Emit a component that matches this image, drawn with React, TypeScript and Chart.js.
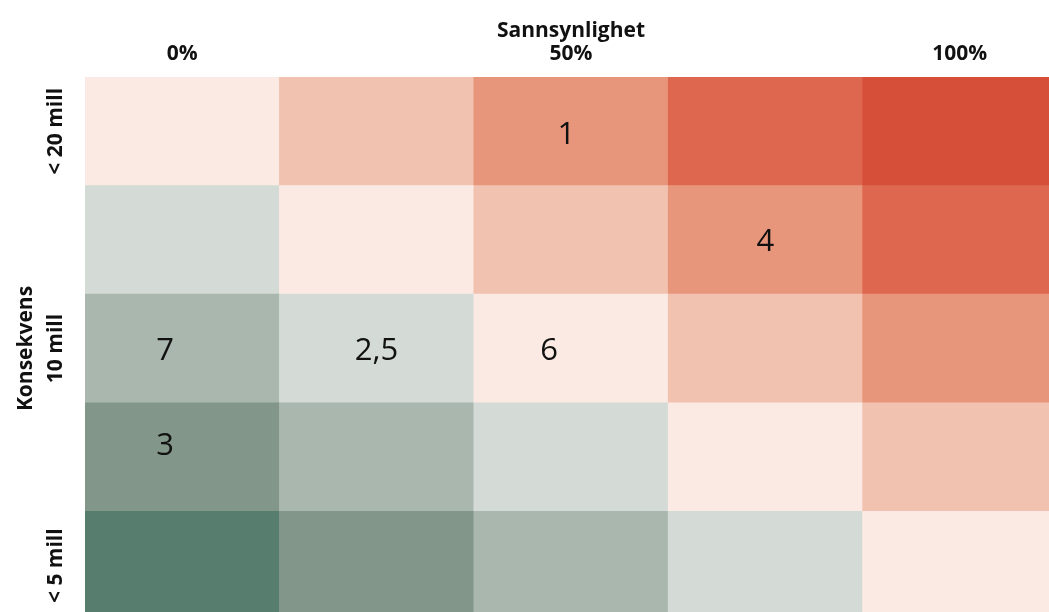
import React, { useEffect, useRef } from "react";
import { Chart, registerables } from "chart.js";

Chart.register(...registerables);

// Axis texts
const probabilityTicks = ["0%", "", "50%", "", "100%"];
const consequenceTicks = ["< 20 mill", "", "10 mill", "", "< 5 mill"];
const xTitle = "Sannsynlighet";
const yTitle = "Konsekvens";

// Risk level of every cell (0 = lowest, 8 = highest), one row per consequence band,
// listed from the bottom row (< 5 mill) up to the top row (< 20 mill)
const riskRowBottom = [0, 1, 2, 3, 4];
const riskRow2 = [1, 2, 3, 4, 5];
const riskRowMiddle = [2, 3, 4, 5, 6];
const riskRow4 = [3, 4, 5, 6, 7];
const riskRowTop = [4, 5, 6, 7, 8];

// every cell spans one consequence unit
const cellSpan = [1, 1, 1, 1, 1];

const riskPalette = [
  "#577D6E",
  "#82978A",
  "#AAB7AE",
  "#D4DBD6",
  "#FBEAE3",
  "#F1C2AF",
  "#E8967B",
  "#DE674F",
  "#D64F38",
];

// Numbered items placed in the matrix
const itemLabels = ["1", "4", "7", "2,5", "6", "3"];
const itemProbability = [49.4, 75, -2.2, 25, 47.2, -2.2]; // percent
const itemConsequence = [4.46, 3.48, 2.48, 2.48, 2.48, 1.6]; // 0 = bottom, 5 = top

const TEXT = "#111111";
const FONT = "'Open Sans', sans-serif";

const itemLabelPlugin = {
  id: "itemLabels",
  afterDatasetsDraw(chart: any) {
    const idx = chart.data.datasets.length - 1;
    const meta = chart.getDatasetMeta(idx);
    const ctx = chart.ctx;
    ctx.save();
    ctx.font = `31px ${FONT}`;
    ctx.fillStyle = TEXT;
    ctx.textAlign = "center";
    ctx.textBaseline = "middle";
    meta.data.forEach((el: any, i: number) => {
      ctx.fillText(itemLabels[i], el.x, el.y);
    });
    ctx.restore();
  },
};

export default function App() {
  const ref = useRef<HTMLCanvasElement | null>(null);

  useEffect(() => {
    if (!ref.current) return;
    Chart.defaults.font.family = FONT;
    const rows = [riskRowBottom, riskRow2, riskRowMiddle, riskRow4, riskRowTop];
    const barSets: any[] = rows.map((r, i) => ({
      type: "bar",
      label: `row${i}`,
      data: [...cellSpan],
      backgroundColor: r.map((l) => riskPalette[l]),
      borderWidth: 0,
      categoryPercentage: 1,
      barPercentage: 1,
      grouped: false,
      xAxisID: "x",
      yAxisID: "y",
      stack: "matrix",
    }));
    const labelSet: any = {
      type: "scatter",
      label: "items",
      data: itemProbability.map((p, i) => ({ x: p, y: itemConsequence[i] })),
      xAxisID: "xp",
      yAxisID: "yp",
      pointRadius: 0,
      pointHoverRadius: 0,
    };

    const axisFont = { size: 21, weight: "bold" };

    const chart = new Chart(ref.current, {
      type: "bar",
      data: {
        labels: probabilityTicks,
        datasets: [...barSets, labelSet],
      },
      plugins: [itemLabelPlugin],
      options: {
        animation: false,
        responsive: false,
        layout: { padding: 0 },
        plugins: {
          legend: { display: false },
          tooltip: { enabled: false },
        },
        scales: {
          x: {
            type: "category",
            position: "top",
            offset: true,
            stacked: true,
            grid: { display: false, drawTicks: false },
            border: { display: false },
            ticks: {
              autoSkip: false,
              maxRotation: 0,
              minRotation: 0,
              padding: 10,
              color: TEXT,
              font: axisFont,
            },
            title: {
              display: true,
              text: xTitle,
              color: TEXT,
              font: axisFont,
              padding: { top: 10, bottom: 0 },
            },
            afterFit: (s: any) => {
              s.height = 69;
            },
          },
          y: {
            type: "linear",
            min: 0,
            max: 5,
            stacked: true,
            display: false,
          },
          yl: {
            type: "category",
            position: "left",
            labels: consequenceTicks,
            offset: true,
            grid: { display: false, drawTicks: false },
            border: { display: false },
            ticks: {
              autoSkip: false,
              minRotation: 90,
              maxRotation: 90,
              crossAlign: "center",
              padding: -14,
              color: TEXT,
              font: axisFont,
            },
            title: {
              display: true,
              text: yTitle,
              color: TEXT,
              font: axisFont,
              padding: { top: 5, bottom: 0 },
            },
            afterFit: (s: any) => {
              s.width = 77;
            },
          },
          xp: {
            type: "linear",
            min: -12.5,
            max: 112.5,
            offset: false,
            display: false,
          },
          yp: {
            type: "linear",
            min: 0,
            max: 5,
            offset: false,
            display: false,
          },
        },
      } as any,
    } as any);

    return () => chart.destroy();
  }, []);

  return (
    <div style={{ position: "fixed", left: 8, top: 8, width: 1049, height: 612 }}>
      <canvas ref={ref} width={1049} height={612} style={{ display: "block" }} />
    </div>
  );
}
